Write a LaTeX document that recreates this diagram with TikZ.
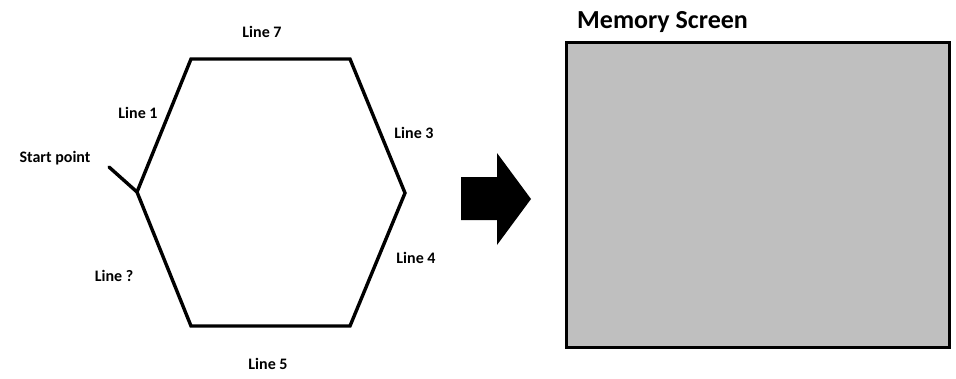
\documentclass[tikz,border=0pt]{standalone}
\usepackage{fontspec}
\setmainfont{Carlito}
\begin{document}
\begin{tikzpicture}[x=1pt,y=-1pt,
  edge/.style={line width=3.4pt,line join=miter},
  lbl/.style={font=\bfseries\fontsize{16}{18}\selectfont,inner sep=0pt},
  ttl/.style={font=\bfseries\fontsize{26}{29}\selectfont,inner sep=0pt,anchor=west}]
\useasboundingbox (0,0) rectangle (956,378);
% hexagon vertices
\coordinate (tl) at (191,59);
\coordinate (tr) at (350,59);
\coordinate (r) at (405,193);
\coordinate (br) at (350,326);
\coordinate (bl) at (191,326);
\coordinate (l) at (137,192);
\coordinate (tick) at (109,167);
\draw[edge] (l) -- (tl) -- (tr) -- (r) -- (br) -- (bl) -- cycle;
\draw[edge,line cap=round] (tick) -- (l);
% labels
\node[lbl] (s) at (55,158) {Start point};
\node[lbl] (l1) at (138,113) {Line 1};
\node[lbl] (l7) at (262,32) {Line 7};
\node[lbl] (l3) at (414,133) {Line 3};
\node[lbl] (l4) at (416,258) {Line 4};
\node[lbl] (lq) at (114,276) {Line ?};
\node[lbl] (l5) at (268,364) {Line 5};
% arrow
\fill (461,177) -- (497,177) -- (497,153) -- (531,199) -- (497,245) -- (497,220) -- (461,220) -- cycle;
% memory screen
\node[ttl] (t) at (577,22) {Memory Screen};
\draw[line width=3pt,fill=black!25] (566,42) rectangle (949,347);
\end{tikzpicture}
\end{document}
